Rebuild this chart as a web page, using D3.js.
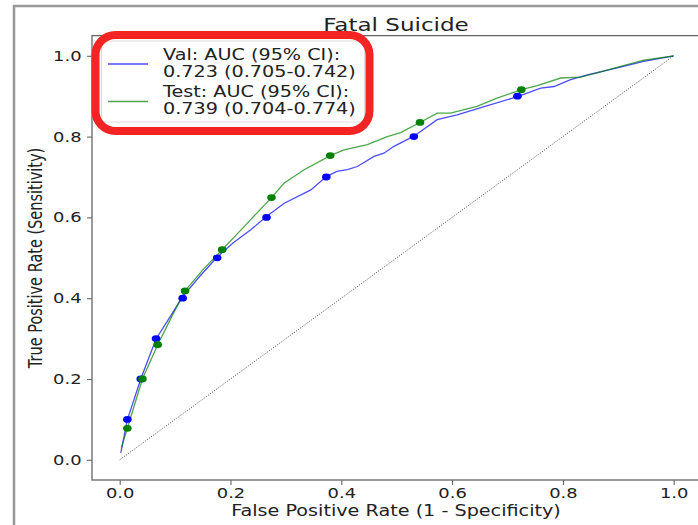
<!DOCTYPE html>
<html>
<head>
<meta charset="utf-8">
<script src="https://cdn.jsdelivr.net/npm/d3@7"></script>
<style>
  body { margin: 0; background: #fff; }
  text { font-family: "DejaVu Sans", sans-serif; fill: #222; }
</style>
</head>
<body>
<svg id="chart" width="698" height="525"></svg>
<script>
// ROC curve points
var valFpr = [0.002, 0.0138, 0.038, 0.0656, 0.09, 0.1137, 0.145, 0.176, 0.205, 0.236, 0.265, 0.297, 0.345, 0.373, 0.392, 0.411, 0.429, 0.459, 0.477, 0.495, 0.531, 0.573, 0.609, 0.658, 0.718, 0.760, 0.784, 0.814, 0.844, 0.898, 0.946, 1.0];
var valTpr = [0.017, 0.099, 0.2, 0.299, 0.352, 0.404, 0.455, 0.502, 0.537, 0.569, 0.602, 0.635, 0.668, 0.701, 0.714, 0.718, 0.726, 0.751, 0.759, 0.776, 0.801, 0.842, 0.854, 0.874, 0.899, 0.920, 0.924, 0.941, 0.953, 0.970, 0.986, 1.0];
var testFpr = [0.003, 0.0138, 0.041, 0.0686, 0.093, 0.118, 0.15, 0.185, 0.21, 0.236, 0.274, 0.297, 0.333, 0.380, 0.405, 0.447, 0.483, 0.507, 0.542, 0.573, 0.597, 0.645, 0.681, 0.725, 0.754, 0.796, 0.832, 0.862, 0.904, 0.946, 1.0];
var testTpr = [0.03, 0.078, 0.2, 0.285, 0.352, 0.418, 0.47, 0.52, 0.556, 0.594, 0.649, 0.685, 0.718, 0.753, 0.767, 0.780, 0.800, 0.810, 0.835, 0.858, 0.858, 0.875, 0.895, 0.916, 0.926, 0.945, 0.947, 0.958, 0.974, 0.989, 1.0];

// threshold markers
var valMarkFpr = [0.0138, 0.038, 0.0656, 0.1137, 0.176, 0.265, 0.373, 0.531, 0.718];
var valMarkTpr = [0.1, 0.2, 0.3, 0.4, 0.5, 0.6, 0.7, 0.8, 0.9];
var testMarkFpr = [0.0138, 0.041, 0.0686, 0.118, 0.185, 0.274, 0.380, 0.542, 0.725];
var testMarkTpr = [0.078, 0.2, 0.285, 0.418, 0.52, 0.649, 0.753, 0.835, 0.916];

var ticks = [0, 0.2, 0.4, 0.6, 0.8, 1.0];
var legendLabels = [
    ['Val: AUC (95% CI):', '0.723 (0.705-0.742)'],
    ['Test: AUC (95% CI):', '0.739 (0.704-0.774)']
];

var stretch = 1.28;   // the picture is wider than tall
var svg = d3.select('#chart');

var x = d3.scaleLinear().domain([-0.05, 1.05]).range([92, 701.4]);
var y = d3.scaleLinear().domain([-0.05, 1.05]).range([480, 35.6]);

// outer figure frame
svg.append('rect')
    .attr('x', 14).attr('y', 6)
    .attr('width', 900).attr('height', 900)
    .attr('fill', 'none')
    .attr('stroke', '#999')
    .attr('stroke-width', 2.5);

// axes box
svg.append('rect')
    .attr('x', x(-0.05)).attr('y', y(1.05))
    .attr('width', x(1.05) - x(-0.05))
    .attr('height', y(-0.05) - y(1.05))
    .attr('fill', 'none')
    .attr('stroke', '#666')
    .attr('stroke-width', 1.3);

var xAxis = svg.append('g')
    .attr('transform', 'translate(0,' + y(-0.05) + ')')
    .call(d3.axisBottom(x).tickValues(ticks).tickSize(5).tickPadding(3).tickFormat(d3.format('.1f')));
var yAxis = svg.append('g')
    .attr('transform', 'translate(' + x(-0.05) + ',0)')
    .call(d3.axisLeft(y).tickValues(ticks).tickSize(5).tickPadding(5).tickFormat(d3.format('.1f')));

[xAxis, yAxis].forEach(function(a) {
    a.select('.domain').remove();
    a.selectAll('line').attr('stroke', '#666').attr('stroke-width', 1.1);
    a.selectAll('text')
        .style('font-size', '14px')
        .attr('fill', '#222');
});
xAxis.selectAll('text').attr('transform', 'scale(' + stretch + ',1)');
yAxis.selectAll('text')
    .attr('x', -10.5 / stretch)
    .attr('transform', 'scale(' + stretch + ',1)');

// chance diagonal
svg.append('line')
    .attr('x1', x(0)).attr('y1', y(0))
    .attr('x2', x(1)).attr('y2', y(1))
    .attr('stroke', '#444')
    .attr('stroke-width', 1)
    .attr('stroke-dasharray', '1,1.6');

var line = d3.line()
    .x(function(d) { return x(d[0]); })
    .y(function(d) { return y(d[1]); });

function drawCurve(fpr, tpr, color) {
    svg.append('path')
        .datum(d3.zip(fpr, tpr))
        .attr('d', line)
        .attr('fill', 'none')
        .attr('stroke', color)
        .attr('stroke-opacity', 0.7)
        .attr('stroke-width', 1.3);
}

function drawMarks(fpr, tpr, color) {
    svg.append('g').selectAll('ellipse')
        .data(d3.zip(fpr, tpr))
        .enter().append('ellipse')
        .attr('cx', function(d) { return x(d[0]); })
        .attr('cy', function(d) { return y(d[1]); })
        .attr('rx', 4.3)
        .attr('ry', 3.4)
        .attr('fill', color);
}

drawCurve(valFpr, valTpr, 'blue');
drawCurve(testFpr, testTpr, 'green');
drawMarks(valMarkFpr, valMarkTpr, 'blue');
drawMarks(testMarkFpr, testMarkTpr, 'green');

// title and axis labels
svg.append('text')
    .attr('transform', 'translate(396,31) scale(' + stretch + ',1)')
    .attr('text-anchor', 'middle')
    .style('font-size', '18px')
    .text('Fatal Suicide');

svg.append('text')
    .attr('transform', 'translate(396,516) scale(' + stretch + ',1)')
    .attr('text-anchor', 'middle')
    .style('font-size', '15px')
    .text('False Positive Rate (1 - Specificity)');

svg.append('text')
    .attr('transform', 'translate(42,258) scale(' + stretch + ',1) rotate(-90)')
    .attr('text-anchor', 'middle')
    .style('font-size', '14.5px')
    .text('True Positive Rate (Sensitivity)');

// legend
var legend = svg.append('g');
legend.append('rect')
    .attr('x', 101.5).attr('y', 41)
    .attr('width', 263).attr('height', 81)
    .attr('rx', 3)
    .attr('fill', '#fff')
    .attr('fill-opacity', 0.85)
    .attr('stroke', '#ddd')
    .attr('stroke-width', 1.2);

var legendColors = ['blue', 'green'];
var handleY = [64, 101.5];
var baseY = [60, 97];
legendLabels.forEach(function(lbl, i) {
    legend.append('line')
        .attr('x1', 108).attr('x2', 148)
        .attr('y1', handleY[i]).attr('y2', handleY[i])
        .attr('stroke', legendColors[i])
        .attr('stroke-opacity', 0.7)
        .attr('stroke-width', 1.3);
    lbl.forEach(function(t, j) {
        legend.append('text')
            .attr('transform', 'translate(163,' + (baseY[i] + j * 16.5) + ') scale(' + stretch + ',1)')
            .style('font-size', '15px')
            .text(t);
    });
});

// red highlight box
svg.append('rect')
    .attr('x', 95.5).attr('y', 35)
    .attr('width', 274).attr('height', 96)
    .attr('rx', 20)
    .attr('fill', 'none')
    .attr('stroke', '#f52424')
    .attr('stroke-width', 8);
</script>
</body>
</html>
